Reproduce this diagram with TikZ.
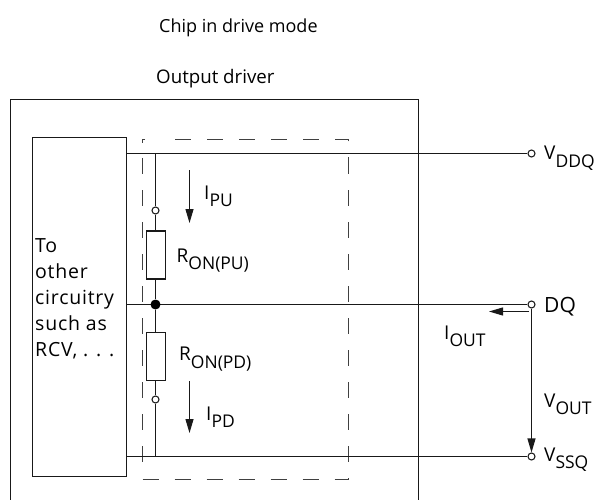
\documentclass[tikz,border=0pt]{standalone}
\usepackage{fontspec}
\setmainfont{Open Sans}
\newfontfamily\widefont[LetterSpace=4]{Open Sans}
\usetikzlibrary{arrows.meta}
\tikzset{
 wire/.style={line width=1.05pt,draw=black!90},
 dash box/.style={line width=1.1pt,draw=black!75,dash pattern=on 16pt off 16pt},
 tip/.style={wire,-{Triangle[length=14pt,width=8pt]}},
 term/.style={circle,draw=black!90,fill=white,line width=1.05pt,inner sep=0pt,minimum size=7pt},
 res/.style={rectangle,draw=black!90,fill=white,line width=1.05pt,inner sep=0pt,minimum width=19pt,minimum height=48pt},
 lbl/.style={inner sep=0pt,font=\fontsize{19}{22}\selectfont,anchor=base west},
 title/.style={lbl,font=\fontsize{18}{22}\selectfont},
 title wide/.style={lbl,font=\fontsize{18.7}{22}\selectfont}
}
\newcommand{\lsub}[2]{#1\raisebox{-7.5pt}{\fontsize{17.5}{18}\selectfont #2}}
\begin{document}
\begin{tikzpicture}[x=1pt,y=-1pt]
\useasboundingbox (0,0) rectangle (597,500);
\fill[white] (0,0) rectangle (597,500);
\coordinate (ol1) at (10.5,500); \coordinate (ol2) at (10.5,99.5); \coordinate (ol3) at (418.5,99.5); \coordinate (ol4) at (418.5,500);
\draw[wire] (ol1) -- (ol2) -- (ol3) -- (ol4);
\node[rectangle,draw=black!90,line width=1.05pt,minimum width=94pt,minimum height=339pt,inner sep=0pt] (ckt) at (79.5,307) {};
\node[lbl,align=left,anchor=north west,font=\widefont\fontsize{19.5}{26}\selectfont] (ckttext) at (35,238) {To\\other\\circuitry\\such as\\RCV, . . .};
\draw[dash box] (142.5,479.5) -- (348.5,479.5) -- (348.5,139.5) -- (174,139.5);
\draw[dash box] (142.5,158) -- (142.5,462);
\draw[line width=1.1pt,draw=black!75] (145,139.5) -- (142.5,139.5) -- (142.5,143);
\node[term] (vddq) at (531.5,153.5) {};
\node[term] (dq) at (531.5,304.5) {};
\node[term] (vssq) at (531.5,456.5) {};
\coordinate (cv) at (ckt.east |- vddq);
\coordinate (cd) at (ckt.east |- dq);
\coordinate (cs) at (ckt.east |- vssq);
\draw[wire] (cv) -- (vddq);
\draw[wire] (cd) -- (dq);
\draw[wire] (cs) -- (vssq);
\coordinate (tv) at (155.5,153.5);
\coordinate (bs) at (155.5,456.5);
\node[term] (ou) at (155.5,210.5) {};
\node[res] (ru) at (156,255) {};
\node[circle,fill=black,inner sep=0pt,minimum size=10pt] (mid) at (155.5,304.5) {};
\node[res] (rd) at (156,356.5) {};
\node[term] (od) at (155.5,399.5) {};
\draw[wire] (tv) -- (ou);
\draw[wire] (ou) -- (ou |- ru.north);
\draw[wire] (ou |- ru.south) -- (mid);
\draw[wire] (mid) -- (mid |- rd.north);
\draw[wire] (od |- rd.south) -- (od);
\draw[wire] (od) -- (bs);
\coordinate (apu1) at (189.5,170); \coordinate (apu2) at (189.5,223);
\coordinate (apd1) at (189.5,381); \coordinate (apd2) at (189.5,433);
\coordinate (ai1) at (529,311.5); \coordinate (ai2) at (489,311.5);
\draw[tip] (apu1) -- (apu2);
\draw[tip] (apd1) -- (apd2);
\draw[tip] (ai1) -- (ai2);
\draw[tip] (dq) -- (vssq);
\node[title] (ttl) at (159,33) {Chip in drive mode};
\node[title wide] (od2) at (156,84) {Output driver};
\node[lbl] (ipu) at (204,199) {\lsub{I}{PU}};
\node[lbl] (ipd) at (206,420) {\lsub{I}{PD}};
\node[lbl] (rpu) at (176.5,262) {\lsub{R}{ON(PU)}};
\node[lbl] (rpd) at (179,360.5) {\lsub{R}{ON(PD)}};
\node[lbl] (lvd) at (544,160) {\lsub{V}{DDQ}};
\node[lbl,font=\fontsize{21}{22}\selectfont] (ldq) at (544,312) {DQ};
\node[lbl] (lvs) at (544,461) {\lsub{V}{SSQ}};
\node[lbl] (liout) at (444,339) {\lsub{I}{OUT}};
\node[lbl] (lvout) at (544,407) {\lsub{V}{OUT}};
\end{tikzpicture}
\end{document}
